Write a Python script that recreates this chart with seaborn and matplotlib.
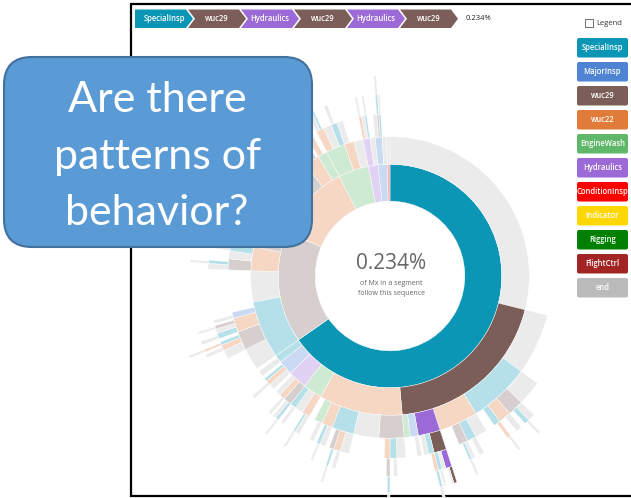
import numpy as np
import matplotlib
matplotlib.use("Agg")
import matplotlib.pyplot as plt
from matplotlib.patches import FancyBboxPatch, Rectangle, Polygon
import seaborn as sns

sns.set_theme(style="white")
plt.rcParams["font.family"] = ["Open Sans", "DejaVu Sans"]

# legend categories and their colours
categories = ["SpecialInsp", "MajorInsp", "wuc29", "wuc22", "EngineWash", "Hydraulics",
              "ConditionInsp", "Indicator", "Rigging", "FlightCtrl", "end"]
colors = ["#0a96b4", "#4f84d4", "#7b5e57", "#e07b39", "#5fb86a", "#9c6ad6",
          "#ff0000", "#ffd700", "#008000", "#a32424", "#bbbbbb"]

# highlighted sequence (breadcrumb)
path = ["SpecialInsp", "wuc29", "Hydraulics", "wuc29", "Hydraulics", "wuc29"]

# sunburst rings: (category, % of Mx), None = no sequence continues here
ring1 = [("SpecialInsp", 65.3), ("wuc29", 16.1), ("wuc22", 11.1), ("EngineWash", 4.4),
         ("Hydraulics", 1.4), ("MajorInsp", 1.3), ("ConditionInsp", 0.4)]

ring2 = [("end", 28.9), ("wuc29", 19.7), ("wuc22", 9.7), ("EngineWash", 2.2),
         ("Hydraulics", 2.2), ("MajorInsp", 1.7), ("SpecialInsp", 0.9),
         ("SpecialInsp", 6.7), ("end", 3.6), ("wuc22", 2.8), ("wuc29", 1.7),
         ("EngineWash", 0.8), ("Hydraulics", 0.5),
         ("end", 3.3), ("SpecialInsp", 2.8), ("wuc29", 2.2), ("wuc22", 1.7), ("EngineWash", 1.1),
         ("EngineWash", 2.2), ("wuc22", 1.1), ("end", 1.1),
         ("Hydraulics", 0.8), ("end", 0.6),
         ("MajorInsp", 0.8), ("end", 0.5),
         ("end", 0.4)]

ring3 = [(None, 28.9),
         ("end", 6.1), ("SpecialInsp", 6.1), ("wuc22", 3.9), ("Hydraulics", 2.2),
         ("MajorInsp", 0.8), ("EngineWash", 0.6),
         ("wuc29", 2.5), ("end", 2.5), ("SpecialInsp", 2.2), ("wuc22", 1.1),
         ("EngineWash", 0.8), (None, 0.6),
         ("wuc22", 0.8), ("end", 0.8), ("SpecialInsp", 0.6),
         ("wuc29", 0.8), ("wuc22", 0.6), ("end", 0.5), (None, 0.3),
         ("end", 0.6), ("wuc22", 0.5), ("SpecialInsp", 0.3), (None, 0.3),
         ("end", 0.6), (None, 0.3),
         ("end", 2.2), ("wuc29", 1.9), ("wuc22", 1.4), ("MajorInsp", 0.6), (None, 0.6),
         (None, 3.6),
         ("wuc29", 1.1), ("end", 0.8), ("SpecialInsp", 0.9),
         ("end", 0.8), ("wuc22", 0.9),
         ("end", 0.5), (None, 4.1),
         ("end", 1.1), ("wuc29", 0.9), ("wuc22", 0.8),
         ("SpecialInsp", 0.8), ("end", 0.8), (None, 0.6),
         ("end", 0.9), ("wuc29", 0.5), (None, 0.3),
         ("wuc22", 0.6), (None, 0.5),
         ("wuc22", 0.8), ("end", 0.8), ("SpecialInsp", 0.6),
         ("end", 0.6), (None, 1.6),
         ("wuc22", 0.3), ("end", 0.3), ("SpecialInsp", 0.2), (None, 0.6),
         ("end", 0.4), ("wuc29", 0.2), ("SpecialInsp", 0.2)]

ring4 = [(None, 35.0),
         ("end", 2.2), ("wuc29", 1.4), ("wuc22", 1.1), ("SpecialInsp", 0.6), (None, 0.8),
         ("end", 1.1), ("SpecialInsp", 0.8), ("wuc29", 0.8), (None, 1.2),
         ("wuc29", 1.1), ("SpecialInsp", 0.5), ("end", 0.4), (None, 0.2),
         ("end", 0.4), (None, 1.0),
         ("end", 0.8), ("SpecialInsp", 0.6), ("wuc22", 0.5), (None, 3.1),
         ("end", 0.8), ("wuc22", 0.6), ("wuc29", 0.4), (None, 0.4),
         ("end", 0.5), ("SpecialInsp", 0.3), (None, 0.3),
         ("end", 0.4), (None, 1.0),
         ("end", 0.4), ("SpecialInsp", 0.2), (None, 1.0),
         ("end", 0.3), (None, 0.3),
         ("SpecialInsp", 0.3), ("end", 0.3), (None, 0.2),
         ("end", 0.3), (None, 1.7),
         ("end", 0.3), (None, 3.9),
         ("end", 0.8), ("wuc22", 0.5), ("SpecialInsp", 0.3), (None, 0.3),
         ("SpecialInsp", 0.5), ("end", 0.4), ("wuc29", 0.3), (None, 0.2),
         ("end", 0.3), (None, 4.5),
         ("end", 0.5), ("SpecialInsp", 0.3), (None, 1.1),
         ("end", 0.4), ("wuc22", 0.3), (None, 1.0),
         ("end", 0.4), (None, 6.2),
         ("end", 0.4), ("SpecialInsp", 0.3), (None, 0.2),
         ("end", 0.4), (None, 0.4),
         ("end", 0.4), ("wuc29", 0.2), (None, 2.5),
         ("end", 0.3), (None, 0.5),
         ("end", 0.3), (None, 0.8),
         ("end", 0.4), ("SpecialInsp", 0.2), (None, 1.0),
         ("end", 0.3), (None, 2.5),
         ("end", 0.2), (None, 0.4), ("end", 0.2), (None, 1.0),
         ("SpecialInsp", 0.2), ("end", 0.2)]

ring5 = [(None, 37.2),
         ("end", 0.6), ("SpecialInsp", 0.4), (None, 0.4),
         ("end", 0.5), (None, 0.6),
         ("wuc22", 0.3), (None, 2.2),
         ("end", 0.4), (None, 0.4),
         ("end", 0.3), ("SpecialInsp", 0.2), (None, 1.5),
         ("Hydraulics", 0.5), ("end", 0.3), ("SpecialInsp", 0.3),
         ("wuc22", 0.3), (None, 3.0),
         ("end", 0.3), (None, 0.3),
         ("wuc29", 0.3), (None, 4.1),
         ("end", 0.3), (None, 0.3),
         ("SpecialInsp", 0.2), (None, 1.1),
         ("end", 0.2), (None, 2.2),
         ("end", 0.2), (None, 1.6),
         ("end", 0.2), (None, 7.6),
         ("end", 0.3), (None, 0.2),
         ("wuc22", 0.2), (None, 0.4),
         ("end", 0.3), (None, 0.6),
         ("end", 0.2), (None, 5.6),
         ("end", 0.2), (None, 1.6),
         ("end", 0.2), (None, 8.1),
         ("end", 0.2), (None, 1.5),
         ("end", 0.2), (None, 4.8),
         ("end", 0.2), (None, 5.6),
         ("end", 0.2)]

ring6 = [(None, 37.8),
         ("end", 0.2), (None, 1.7),
         ("end", 0.2), (None, 3.4),
         ("end", 0.2), (None, 1.5),
         ("wuc29", 0.234), ("end", 0.15), (None, 0.416),
         ("end", 0.2), (None, 0.1),
         ("SpecialInsp", 0.2), (None, 3.7),
         ("SpecialInsp", 0.2), (None, 4.8),
         ("end", 0.2), (None, 13.6),
         ("end", 0.2)]

ring7 = [(None, 46.1), ("end", 0.2), (None, 3.7), ("end", 0.2)]

palette = dict(zip(categories, colors))


def faded(c, a=0.3):
    rgb = np.array(matplotlib.colors.to_rgb(c))
    return tuple(1 - a * (1 - rgb))


W, H = 631, 498
fig = plt.figure(figsize=(W / 100, H / 100), dpi=100)
fig.patch.set_facecolor("white")

bg = fig.add_axes([0, 0, 1, 1])
bg.set_xlim(0, W)
bg.set_ylim(H, 0)
bg.axis("off")
bg.plot([W, 131, 131, W], [4, 4, 496, 496], color="black", lw=1.6, solid_joinstyle="miter")

# sunburst
cx, cy, R = 390, 276, 240
pax = fig.add_axes([(cx - R) / W, (H - cy - R) / H, 2 * R / W, 2 * R / H], projection="polar")
pax.set_theta_zero_location("N")
pax.set_theta_direction(-1)
pax.set_ylim(0, R)
pax.set_axis_off()

edges = np.sqrt(6900 * np.arange(1, 10) - 1300)
rings = [ring1, ring2, ring3, ring4, ring5, ring6, ring7]
lo, hi = 0.0, 100.0
leaf = None
for d, ring in enumerate(rings):
    vals = [v for _, v in ring]
    starts = np.concatenate([[0], np.cumsum(vals)[:-1]])
    found = None
    for (cat, v), s in zip(ring, starts):
        if cat is None:
            continue
        on = d < len(path) and cat == path[d] and s >= lo - 1e-6 and s + v <= hi + 1e-6
        col = palette[cat] if on else faded(palette[cat])
        pax.bar(np.deg2rad((s + v / 2) * 3.6), edges[d + 1] - edges[d],
                width=np.deg2rad(v * 3.6), bottom=edges[d], color=col,
                edgecolor="white", linewidth=0.3)
        if on:
            found = (s, s + v)
            leaf = v
    lo, hi = found if found else (1.0, 0.0)

pct_label = f"{leaf:.3f}%"

top = fig.add_axes([0, 0, 1, 1])
top.set_xlim(0, W)
top.set_ylim(H, 0)
top.axis("off")
top.patch.set_alpha(0)

# centre label
top.text(391, 263, pct_label, ha="center", va="center", fontsize=15, color="#666666")
top.text(391, 283, "of Mx in a segment", ha="center", va="center", fontsize=5, color="#666666")
top.text(391, 293, "follow this sequence", ha="center", va="center", fontsize=5, color="#666666")

# breadcrumb trail
bx0, step, bw, bt, by0, bh = 135, 53, 51, 7, 9.5, 18.5
for i, cat in enumerate(path):
    x = bx0 + i * step
    pts = [(x, by0), (x + bw, by0), (x + bw + bt, by0 + bh / 2), (x + bw, by0 + bh), (x, by0 + bh)]
    if i > 0:
        pts.append((x + bt, by0 + bh / 2))
    top.add_patch(Polygon(pts, closed=True, facecolor=palette[cat], edgecolor="none"))
    top.text(x + (bw + bt) / 2, by0 + bh / 2, cat, color="white", fontsize=5.5,
             ha="center", va="center", fontweight="semibold")
top.text(478, by0 + bh / 2, pct_label, color="#222222", fontsize=5.5, ha="center", va="center")

# legend
top.add_patch(Rectangle((585, 18.5), 7.5, 8, facecolor="white", edgecolor="#555555", lw=0.6))
top.text(596, 23, "Legend", fontsize=5.5, color="#333333", va="center", ha="left")
for i, cat in enumerate(categories):
    y = 38 + 24 * i
    top.add_patch(FancyBboxPatch((577, y), 51, 19.5, boxstyle="round,pad=0,rounding_size=2",
                                 facecolor=palette[cat], edgecolor="none"))
    top.text(602.5, y + 9.75, cat, color="white", fontsize=5.5, ha="center", va="center",
             fontweight="semibold")

# callout
top.add_patch(FancyBboxPatch((4, 57), 308, 190, boxstyle="round,pad=0,rounding_size=28",
                             facecolor="#5b9bd5", edgecolor="#41719c", lw=1.5))
for txt, yb in zip(["Are there", "patterns of", "behavior?"], [112, 168.5, 225]):
    top.text(157, yb, txt, ha="center", va="baseline", fontsize=31, color="white",
             family=["Lato", "DejaVu Sans"])

fig.savefig("out.png", dpi=100)
